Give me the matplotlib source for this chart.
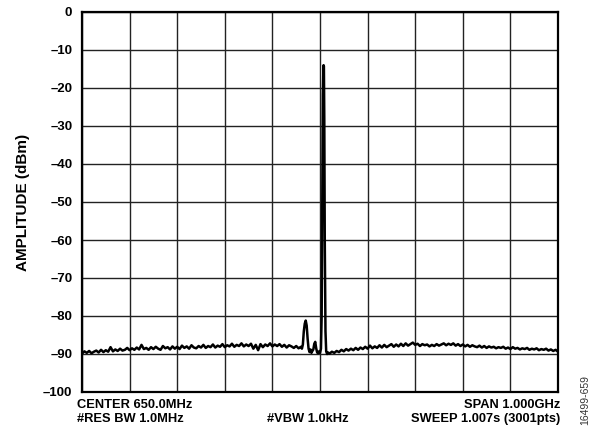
import numpy as np
import matplotlib
matplotlib.use("Agg")
import matplotlib.pyplot as plt

plt.rcParams['font.family'] = ['Liberation Sans', 'DejaVu Sans']

# Noise floor, 150-610 MHz, 5 MHz steps
noise_a_start, noise_a_step = 150, 5
noise_a = [
    -89.9, -89.3, -89.7, -89.2, -89.8, -89.4, -89.1, -89.6, -88.9, -89.5,
    -89.0, -89.4, -88.2, -89.3, -88.8, -89.2, -88.6, -89.1, -88.9, -88.4,
    -89.0, -88.5, -88.9, -88.3, -88.8, -87.6, -88.7, -88.4, -88.9, -88.2,
    -88.7, -88.1, -88.6, -88.9, -87.9, -88.5, -88.2, -88.8, -88.0, -88.6,
    -88.1, -88.7, -87.8, -88.4, -88.0, -88.6, -87.7, -88.3, -88.5, -87.9,
    -88.3, -87.6, -88.4, -87.9, -88.2, -87.5, -88.3, -87.8, -88.1, -87.4,
    -88.2, -87.7, -88.0, -87.3, -88.1, -87.6, -87.9, -87.2, -88.0, -87.5,
    -87.9, -87.3, -88.6, -87.6, -89.0, -87.4, -88.2, -87.5, -87.9, -87.2,
    -88.0, -87.5, -87.9, -87.4, -88.1, -87.6, -88.3, -87.7, -88.0, -88.4,
    -87.9, -88.5, -88.1,
]

# Spur and main tone region (MHz, dBm)
tone_freq = [612, 614, 616, 618, 620, 622, 624, 626, 628, 630, 632, 634, 636,
             638, 640, 642, 644, 646, 648, 650, 652, 653.5, 655, 656, 657,
             657.5, 658.2, 659, 660, 661.5, 663, 665, 667, 670, 675]
tone_amp = [-88.6, -87.5, -84.0, -82.0, -81.2, -82.5, -86.0, -88.6, -89.5,
            -88.8, -89.7, -89.2, -88.8, -87.3, -86.8, -88.5, -89.6, -89.8,
            -89.3, -89.7, -88.6, -80.0, -45.0, -22.0, -15.3, -14.0, -14.3,
            -28.0, -60.0, -84.0, -89.3, -90.0, -89.6, -89.9, -89.4]

# Noise floor, 680-1150 MHz, 5 MHz steps
noise_b_start, noise_b_step = 680, 5
noise_b = [
    -89.7, -89.2, -89.5, -88.9, -89.3, -88.7, -89.1, -88.6, -89.0, -88.4,
    -88.9, -88.3, -88.7, -88.1, -88.6, -87.8, -88.5, -88.0, -88.4, -87.7,
    -88.3, -87.6, -88.2, -87.8, -87.4, -88.1, -87.5, -88.0, -87.3, -87.9,
    -87.2, -87.8, -87.4, -87.0, -87.6, -87.3, -87.9, -87.4, -87.7, -87.5,
    -88.0, -87.6, -87.9, -87.4, -87.8, -87.5, -87.2, -87.7, -87.3, -87.6,
    -87.2, -87.8, -87.4, -87.9, -87.5, -88.0, -87.6, -88.1, -87.7, -88.0,
    -88.2, -87.8, -88.3, -87.9, -88.4, -88.0, -88.3, -88.1, -88.5, -88.2,
    -88.4, -88.1, -88.6, -88.3, -88.7, -88.2, -88.6, -88.4, -88.8, -88.5,
    -88.7, -88.4, -88.9, -88.6, -88.8, -88.5, -89.0, -88.7, -88.9, -88.6,
    -89.1, -88.8, -89.2, -88.9, -89.4,
]

y_ticks = [0, -10, -20, -30, -40, -50, -60, -70, -80, -90, -100]
y_tick_labels = ['0', '–10', '–20', '–30', '–40', '–50', '–60', '–70', '–80', '–90', '–100']

freq_a = noise_a_start + noise_a_step * np.arange(len(noise_a))
freq_b = noise_b_start + noise_b_step * np.arange(len(noise_b))
freq = np.concatenate([freq_a, tone_freq, freq_b])
amp = np.concatenate([noise_a, tone_amp, noise_b])

fig = plt.figure(figsize=(6.0, 4.33), dpi=100)
ax = fig.add_axes([82/600, (433-392)/433, (558-82)/600, (392-12)/433])

ax.plot(freq, amp, color='black', lw=1.8, zorder=3)

ax.set_xlim(150, 1150)
ax.set_ylim(-100, 0)
ax.set_xticks(np.arange(150, 1151, 100))
ax.set_xticklabels([])
ax.set_yticks(y_ticks)
ax.set_yticklabels(y_tick_labels, fontsize=9.5, fontweight='bold')
ax.tick_params(axis='both', length=0, pad=7)
ax.grid(True, color='#222222', lw=1.0)
for s in ax.spines.values():
    s.set_linewidth(1.6)
    s.set_color('black')
ax.set_ylabel('AMPLITUDE (dBm)', fontsize=11, fontweight='bold', labelpad=9)

def ft(x, y, s, **kw):
    fig.text(x/600, 1 - y/433, s, fontsize=9.3, fontweight='bold', va='center', **kw)

ft(77, 405, 'CENTER 650.0MHz', ha='left')
ft(77, 419, '#RES BW 1.0MHz', ha='left')
ft(308, 419, '#VBW 1.0kHz', ha='center')
ft(560, 405, 'SPAN 1.000GHz', ha='right')
ft(560, 419, 'SWEEP 1.007s (3001pts)', ha='right')
fig.text(585/600, 1 - 400/433, '16499-659', fontsize=7.5, rotation=90,
         ha='center', va='center', color='#333333')

fig.savefig('out.png', dpi=100)
